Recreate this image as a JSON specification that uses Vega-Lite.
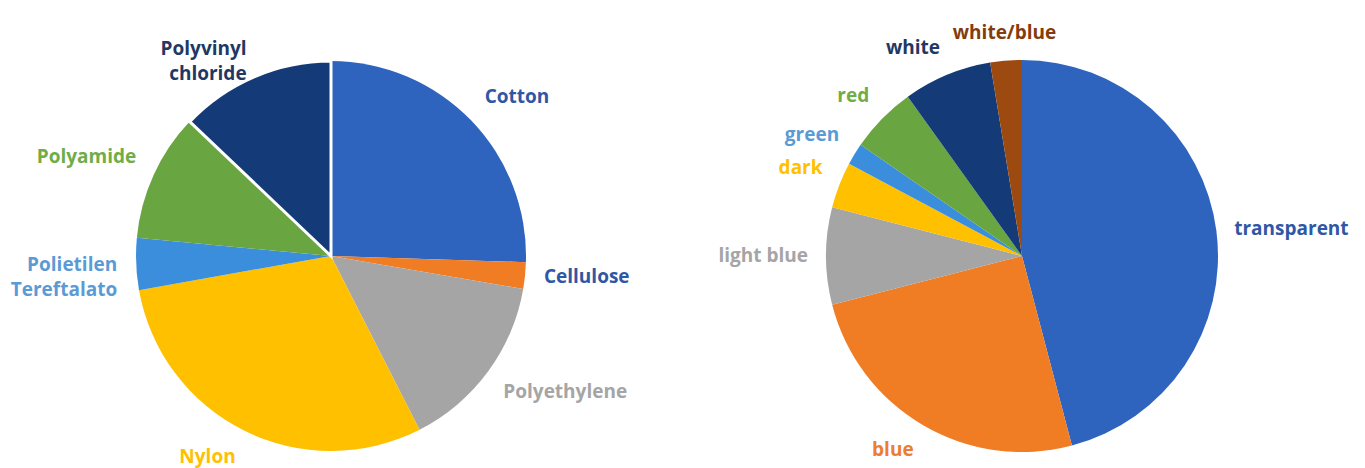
{
  "$schema": "https://vega.github.io/schema/vega-lite/v6.json",
  "padding": {"left": 0, "top": 23, "right": 0, "bottom": 0},
  "background": "white",
  "spacing": 17,
  "config": {"view": {"stroke": null}},
  "datasets": {
    "fibers": [
      {"k": 1, "name": "Cotton", "label": "Cotton", "value": 25.5},
      {"k": 2, "name": "Cellulose", "label": "Cellulose", "value": 2.2},
      {"k": 3, "name": "Polyethylene", "label": "Polyethylene", "value": 14.8},
      {"k": 4, "name": "Nylon", "label": "Nylon", "value": 29.7},
      {"k": 5, "name": "Polietilen Tereftalato", "label": "Polietilen\nTereftalato", "value": 4.3},
      {"k": 6, "name": "Polyamide", "label": "Polyamide", "value": 10.6},
      {"k": 7, "name": "Polyvinyl chloride", "label": "Polyvinyl\nchloride", "value": 12.9}
    ],
    "colours": [
      {"k": 1, "name": "transparent", "value": 45.9},
      {"k": 2, "name": "blue", "value": 25.1},
      {"k": 3, "name": "light blue", "value": 8.0},
      {"k": 4, "name": "dark", "value": 3.8},
      {"k": 5, "name": "green", "value": 1.8},
      {"k": 6, "name": "red", "value": 5.5},
      {"k": 7, "name": "white", "value": 7.3},
      {"k": 8, "name": "white/blue", "value": 2.6}
    ]
  },
  "hconcat": [
    {
      "width": 662,
      "height": 428,
      "data": {"name": "fibers"},
      "layer": [
        {
          "mark": {"type": "arc", "outerRadius": 195, "stroke": "white"},
          "encoding": {
            "theta": {"field": "value", "type": "quantitative", "stack": true},
            "order": {"field": "k", "type": "quantitative"},
            "strokeWidth": {"condition": {"test": "datum.name === 'Polyvinyl chloride'", "value": 3}, "value": 0},
            "color": {
              "field": "name", "type": "nominal", "legend": null,
              "scale": {
                "domain": ["Cotton", "Cellulose", "Polyethylene", "Nylon", "Polietilen Tereftalato", "Polyamide", "Polyvinyl chloride"],
                "range": ["#2E64BE", "#F07C24", "#A5A5A5", "#FFC000", "#3B8EDB", "#69A540", "#143B78"]
              }
            }
          }
        },
        {
          "mark": {
            "type": "text", "radius": 214, "font": "Open Sans", "fontWeight": "bold", "fontSize": 19, "lineBreak": "\n", "lineHeight": 25,
            "align": {"expr": "sin(PI*(datum.value_start+datum.value_end)/100) > 0.3 ? 'left' : (sin(PI*(datum.value_start+datum.value_end)/100) < -0.3 ? 'right' : 'center')"},
            "baseline": {"expr": "cos(PI*(datum.value_start+datum.value_end)/100) > 0.3 ? 'bottom' : (cos(PI*(datum.value_start+datum.value_end)/100) < -0.3 ? 'top' : 'middle')"}
          },
          "encoding": {
            "theta": {"field": "value", "type": "quantitative", "stack": true},
            "order": {"field": "k", "type": "quantitative"},
            "text": {"field": "label"},
            "color": {
              "field": "name", "type": "nominal", "legend": null,
              "scale": {
                "domain": ["Cotton", "Cellulose", "Polyethylene", "Nylon", "Polietilen Tereftalato", "Polyamide", "Polyvinyl chloride"],
                "range": ["#2F57A4", "#2F57A4", "#A5A5A5", "#FFC000", "#5B9BD5", "#70AD47", "#1F3864"]
              }
            }
          }
        }
      ],
      "resolve": {"scale": {"color": "independent"}}
    },
    {
      "width": 686,
      "height": 428,
      "data": {"name": "colours"},
      "layer": [
        {
          "mark": {"type": "arc", "outerRadius": 196},
          "encoding": {
            "theta": {"field": "value", "type": "quantitative", "stack": true},
            "order": {"field": "k", "type": "quantitative"},
            "color": {
              "field": "name", "type": "nominal", "legend": null,
              "scale": {
                "domain": ["transparent", "blue", "light blue", "dark", "green", "red", "white", "white/blue"],
                "range": ["#2E64BE", "#F07C24", "#A5A5A5", "#FFC000", "#3B8EDB", "#69A540", "#143B78", "#9C4A0F"]
              }
            }
          }
        },
        {
          "mark": {
            "type": "text", "radius": 214, "font": "Open Sans", "fontWeight": "bold", "fontSize": 19,
            "align": {"expr": "sin(PI*(datum.value_start+datum.value_end)/100) > 0.3 ? 'left' : (sin(PI*(datum.value_start+datum.value_end)/100) < -0.3 ? 'right' : 'center')"},
            "baseline": {"expr": "cos(PI*(datum.value_start+datum.value_end)/100) > 0.3 ? 'bottom' : (cos(PI*(datum.value_start+datum.value_end)/100) < -0.3 ? 'top' : 'middle')"}
          },
          "encoding": {
            "theta": {"field": "value", "type": "quantitative", "stack": true},
            "order": {"field": "k", "type": "quantitative"},
            "text": {"field": "name"},
            "color": {
              "field": "name", "type": "nominal", "legend": null,
              "scale": {
                "domain": ["transparent", "blue", "light blue", "dark", "green", "red", "white", "white/blue"],
                "range": ["#2F57A4", "#ED7D31", "#A5A5A5", "#FFC000", "#5B9BD5", "#70AD47", "#1F3864", "#843C0C"]
              }
            }
          }
        }
      ],
      "resolve": {"scale": {"color": "independent"}}
    }
  ]
}
